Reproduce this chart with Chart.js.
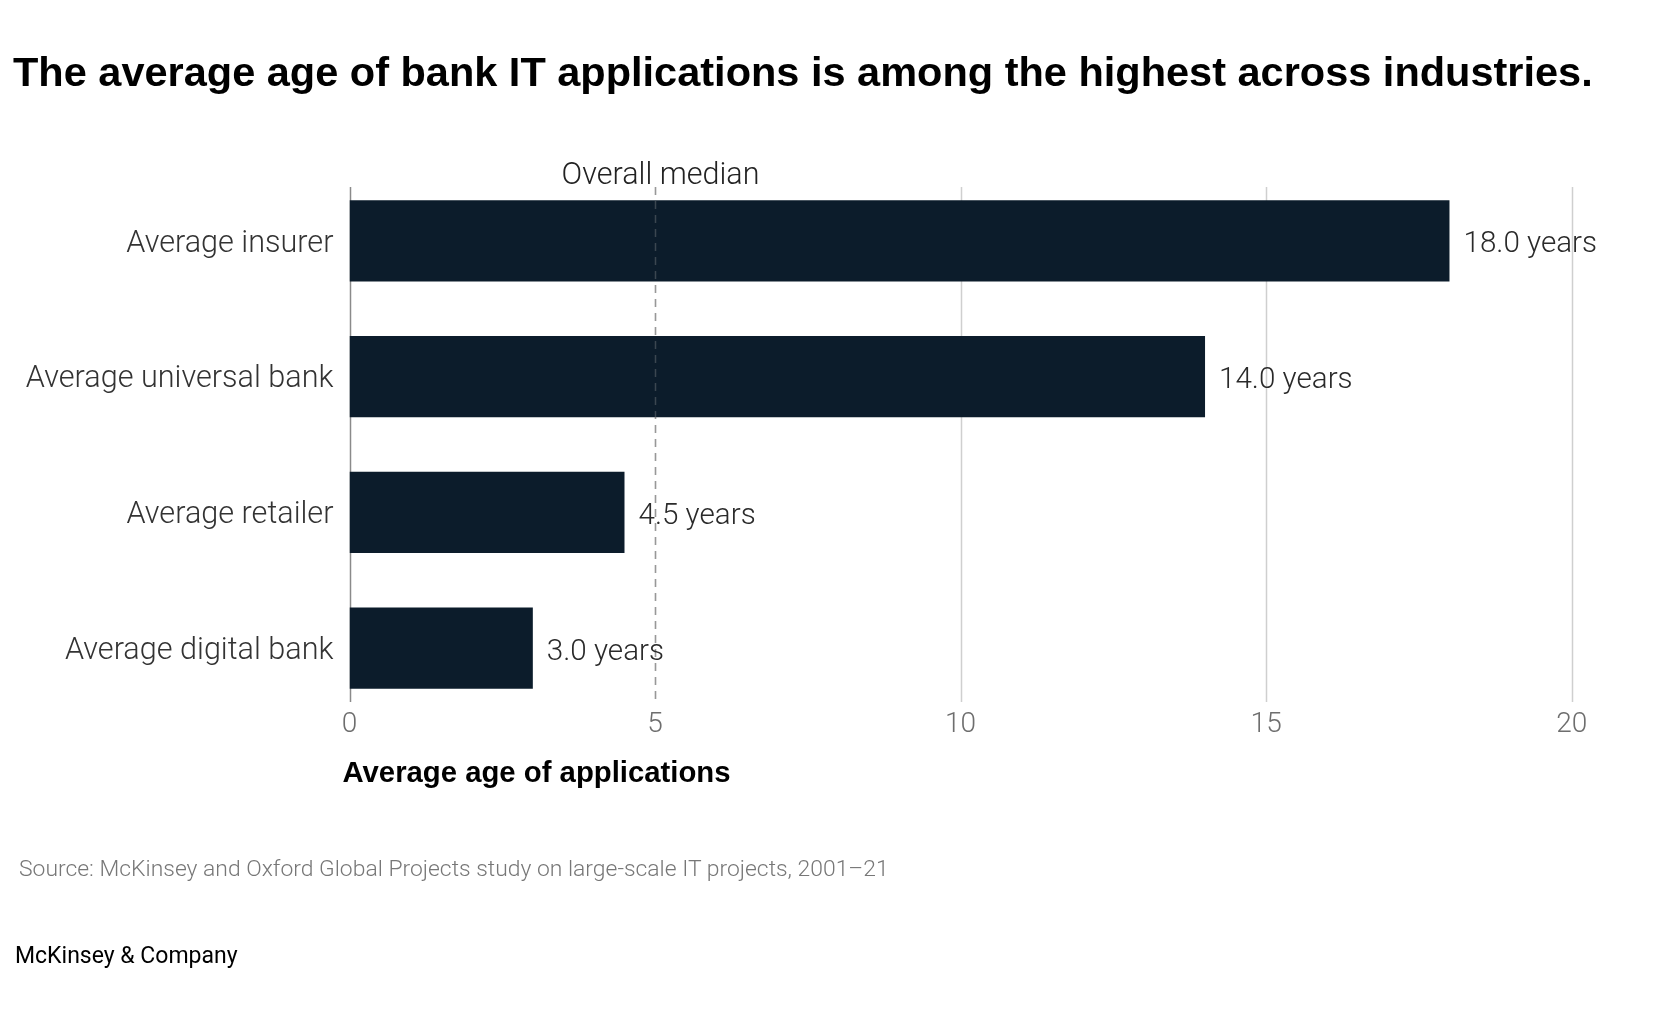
<!DOCTYPE html>
<html>
<head>
<meta charset="utf-8">
<script src="https://cdn.jsdelivr.net/npm/chart.js@4"></script>
<style>
  html, body { margin: 0; padding: 0; background: #fff; width: 1660px; height: 1028px; overflow: hidden; }
  #wrap { position: absolute; left: 0; top: 0; width: 1660px; height: 1028px; }
  .txt { position: absolute; white-space: nowrap; line-height: 1; margin: 0; }
  #title { left: 13px; top: 48px; font: bold 41.5px "Liberation Sans", Arial, sans-serif; color: #000; }
  #source { left: 19px; top: 855px; font: 300 22.9px Roboto, "Noto Sans", sans-serif; color: #777; }
  #brand { left: 15px; top: 942px; font: 400 23px Roboto, "Noto Sans", sans-serif; color: #000; }
</style>
</head>
<body>
<div id="wrap">
  <canvas id="c" width="1660" height="1028"></canvas>
  <div class="txt" id="title">The average age of bank IT applications is among the highest across industries.</div>
  <div class="txt" id="source">Source: McKinsey and Oxford Global Projects study on large-scale IT projects, 2001–21</div>
  <div class="txt" id="brand">McKinsey &amp; Company</div>
</div>
<script>
// ---- data ----
const categories = ["Average insurer", "Average universal bank", "Average retailer", "Average digital bank"];
const ageYears = [18.0, 14.0, 4.5, 3.0];
const medianValue = 5;
const medianLabel = "Overall median";
const xTicks = [0, 5, 10, 15, 20];
const xAxisTitle = "Average age of applications";
const valueSuffix = " years";

const LIGHT = 'Roboto, "Noto Sans", sans-serif';
const BOLD = '"Liberation Sans", Arial, sans-serif';

const linesPlugin = {
  id: 'lines',
  beforeDatasetsDraw(chart) {
    const { ctx, chartArea, scales: { x } } = chart;
    const y0 = chartArea.top + 14, y1 = chartArea.bottom - 14;
    ctx.save();
    ctx.lineWidth = 1.5;
    xTicks.forEach(v => {
      if (v === 0 || v === medianValue) return;
      const px = Math.round(x.getPixelForValue(v)) + 0.5;
      ctx.strokeStyle = '#cfcfcf';
      ctx.beginPath(); ctx.moveTo(px, y0); ctx.lineTo(px, y1); ctx.stroke();
    });
    // zero axis
    const p0 = Math.round(x.getPixelForValue(0)) + 0.5;
    ctx.strokeStyle = '#8a8a8a';
    ctx.beginPath(); ctx.moveTo(p0, y0); ctx.lineTo(p0, y1); ctx.stroke();
    // median dashed
    const pm = Math.round(x.getPixelForValue(medianValue)) + 0.5;
    ctx.strokeStyle = '#9a9a9a';
    ctx.setLineDash([8, 6]);
    ctx.beginPath(); ctx.moveTo(pm, y0); ctx.lineTo(pm, y1); ctx.stroke();
    ctx.setLineDash([]);
    // median label
    ctx.fillStyle = '#222';
    ctx.font = '300 30.5px ' + LIGHT;
    ctx.textAlign = 'center';
    ctx.textBaseline = 'middle';
    ctx.fillText(medianLabel, pm + 5, chartArea.top + 3);
    // x tick labels
    ctx.fillStyle = '#6e6e6e';
    ctx.font = '300 28px ' + LIGHT;
    xTicks.forEach(v => {
      ctx.fillText(String(v), x.getPixelForValue(v), chartArea.bottom + 9);
    });
    // x axis title
    ctx.fillStyle = '#000';
    ctx.font = 'bold 29.3px ' + BOLD;
    ctx.textAlign = 'left';
    ctx.fillText(xAxisTitle, x.left - 7, chartArea.bottom + 58);
    ctx.restore();
  },
  afterDatasetsDraw(chart) {
    const { ctx, chartArea, scales: { x } } = chart;
    const y0 = chartArea.top + 14, y1 = chartArea.bottom - 14;
    ctx.save();
    // faint median line over bars
    const pm = Math.round(x.getPixelForValue(medianValue)) + 0.5;
    ctx.strokeStyle = 'rgba(150,150,150,0.35)';
    ctx.lineWidth = 1.5;
    ctx.setLineDash([8, 6]);
    ctx.beginPath(); ctx.moveTo(pm, y0); ctx.lineTo(pm, y1); ctx.stroke();
    ctx.setLineDash([]);
    // value labels
    const meta = chart.getDatasetMeta(0);
    ctx.fillStyle = '#2a2a2a';
    ctx.font = '300 29.6px ' + LIGHT;
    ctx.textAlign = 'left';
    ctx.textBaseline = 'middle';
    meta.data.forEach((bar, i) => {
      ctx.fillText(ageYears[i].toFixed(1) + valueSuffix, bar.x + 14, bar.y + 4);
    });
    ctx.restore();
  }
};

new Chart(document.getElementById('c'), {
  type: 'bar',
  data: {
    labels: categories,
    datasets: [{
      data: ageYears,
      backgroundColor: '#0c1c2b',
      borderWidth: 0,
      barPercentage: 0.6,
      categoryPercentage: 1.0
    }]
  },
  options: {
    indexAxis: 'y',
    responsive: false,
    animation: false,
    devicePixelRatio: 1,
    layout: { padding: { left: 0, top: 173, right: 88.3, bottom: 232 } },
    plugins: { legend: { display: false }, tooltip: { enabled: false } },
    scales: {
      y: {
        grid: { display: false, drawTicks: false },
        border: { display: false },
        ticks: { color: '#333', font: { family: LIGHT, size: 30.6, weight: '300' }, padding: 16, labelOffset: 3 },
        afterFit(s) { s.width = 349.5; }
      },
      x: {
        min: 0, max: 20,
        afterBuildTicks(s) { s.ticks = xTicks.map(v => ({ value: v })); },
        grid: { display: false, drawTicks: false },
        border: { display: false },
        ticks: { display: false },
        afterFit(s) { s.height = 80; }
      }
    }
  },
  plugins: [linesPlugin]
});
</script>
</body>
</html>
